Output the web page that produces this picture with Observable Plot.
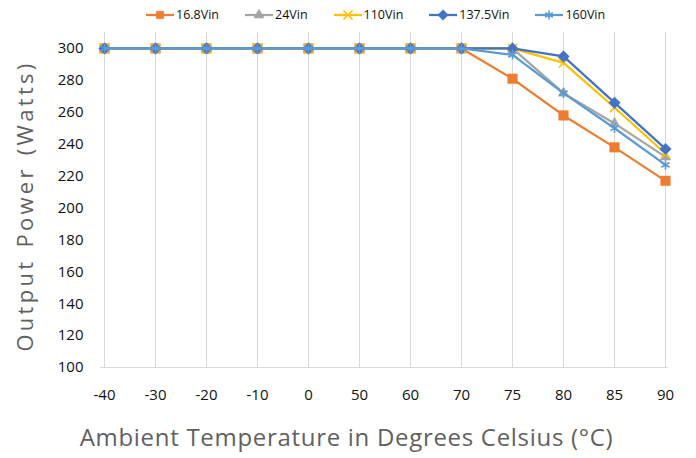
<!DOCTYPE html>
<html><head><meta charset="utf-8">
<script src="https://cdn.jsdelivr.net/npm/d3@7"></script>
<script src="https://cdn.jsdelivr.net/npm/@observablehq/plot@0.6"></script>
<style>
body{margin:0;background:#fff;font-family:"Open Sans",sans-serif;}
#legend{height:26px;display:flex;align-items:center;gap:26px;padding-left:146px;padding-top:3px;box-sizing:border-box;font-size:12.5px;color:#111;}
.item{display:flex;align-items:center;gap:2px}
#chart svg{display:block}
</style></head><body>
<div id="legend"></div>
<div id="chart"></div>
<script>
const temps = ["-40","-30","-20","-10","0","50","60","70","75","80","85","90"];
const seriesNames = ["16.8Vin","24Vin","110Vin","137.5Vin","160Vin"];
const v168  = [300,300,300,300,300,300,300,300,281,258,238,217];
const v24   = [300,300,300,300,300,300,300,300,300,272,253,232];
const v110  = [300,300,300,300,300,300,300,300,300,291,263,234];
const v1375 = [300,300,300,300,300,300,300,300,300,295,266,237];
const v160  = [300,300,300,300,300,300,300,300,296,272,250,227];
const seriesValues = [v168, v24, v110, v1375, v160];
const colors = ["#ED7D31","#A5A5A5","#FFC000","#4472C4","#5B9BD5"];
const symbols = ["square","triangle","times","square","asterisk"];
const rotations = [0,0,0,45,0];
const radii = [5.4,3.9,4.3,4.6,4.5];
const filled = [true,true,false,true,false];
const yTicks = [100,120,140,160,180,200,220,240,260,280,300];
const xTitle = "Ambient Temperature in Degrees Celsius (°C)";
const yTitle = "Output Power (Watts)";

const marks = [];
marks.push(Plot.gridX(temps, {stroke:"#d9d9d9", strokeOpacity:1, strokeWidth:1}));
marks.push(Plot.ruleY([100], {stroke:"#d9d9d9", strokeWidth:1}));
seriesNames.forEach((name, i) => {
  const rows = temps.map((t, j) => ({temp:t, power:seriesValues[i][j], series:name}));
  marks.push(Plot.line(rows, {x:"temp", y:"power", stroke:"series", strokeWidth:2.25}));
  marks.push(Plot.dot(rows, {x:"temp", y:"power", symbol:()=>symbols[i], rotate:rotations[i],
    fill: filled[i] ? "series" : "none", stroke:"series",
    strokeWidth: filled[i] ? 0.5 : 1.6, r: radii[i]}));
});
marks.push(Plot.axisY({ticks:yTicks, tickSize:0, tickPadding:17, fontSize:15, label:null}));
marks.push(Plot.axisX({tickSize:0, tickPadding:22, fontSize:15, label:null}));
marks.push(Plot.text([xTitle], {frameAnchor:"bottom", lineAnchor:"middle", dy:71, dx:-38,
  fontSize:24, fill:"#616161"}));
marks.push(Plot.text([yTitle], {frameAnchor:"left", textAnchor:"middle", lineAnchor:"middle",
  dx:-75, dy:6, rotate:-90, fontSize:22, fill:"#616161"}));

const chart = Plot.plot({
  width:696, height:432,
  marginTop:6, marginBottom:91, marginLeft:100, marginRight:28,
  style:{fontFamily:"'Open Sans', sans-serif", color:"#111", background:"#fff"},
  x:{type:"point", domain:temps, padding:0},
  y:{domain:[100,310]},
  color:{domain:seriesNames, range:colors},
  marks
});
document.getElementById("chart").appendChild(chart);
chart.querySelectorAll("text").forEach(t => {
  if (t.textContent === xTitle) t.setAttribute("letter-spacing", "0.7");
  if (t.textContent === yTitle) { t.setAttribute("letter-spacing", "3.3"); t.setAttribute("word-spacing", "2"); }
});

// legend
const leg = document.getElementById("legend");
seriesNames.forEach((name, i) => {
  const it = document.createElement("div");
  it.className = "item";
  const s = d3.create("svg").attr("width", 28).attr("height", 14);
  s.append("line").attr("x1",0).attr("x2",28).attr("y1",7).attr("y2",7)
    .attr("stroke",colors[i]).attr("stroke-width",2.25);
  const sym = {square:d3.symbolSquare, triangle:d3.symbolTriangle, times:d3.symbolTimes,
               asterisk:d3.symbolAsterisk}[symbols[i]];
  s.append("path").attr("transform",`translate(14,7) rotate(${rotations[i]})`)
    .attr("d", d3.symbol(sym, symbols[i]==="triangle" ? 45 : 55)())
    .attr("fill", filled[i] ? colors[i] : "none")
    .attr("stroke", colors[i]).attr("stroke-width", filled[i] ? 0.5 : 1.6);
  it.appendChild(s.node());
  const t = document.createElement("span");
  t.textContent = name;
  it.appendChild(t);
  leg.appendChild(it);
});
</script>
</body></html>
